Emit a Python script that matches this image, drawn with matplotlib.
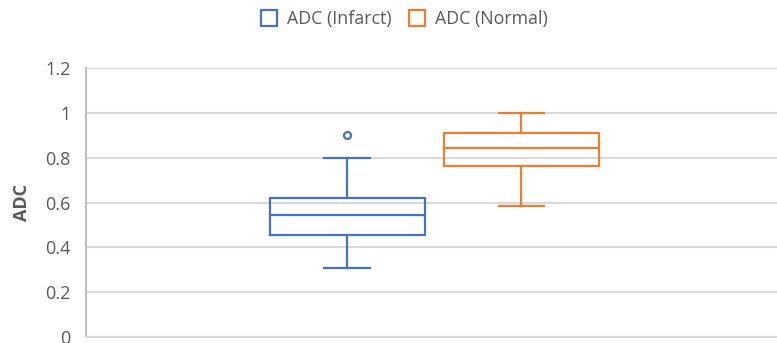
import matplotlib.pyplot as plt

# box statistics per series
series = ["ADC (Infarct)", "ADC (Normal)"]
colors = ["#4472C4", "#ED7D31"]
q1 = [0.457, 0.761]
med = [0.544, 0.842]
q3 = [0.622, 0.912]
whislo = [0.307, 0.583]
whishi = [0.80, 1.00]
fliers = [[0.902], []]

yticks = [0, 0.2, 0.4, 0.6, 0.8, 1.0, 1.2]
ytick_labels = ["0", "0.2", "0.4", "0.6", "0.8", "1", "1.2"]

plt.rcParams["font.family"] = ["Open Sans", "DejaVu Sans"]
text_color = "#595959"

fig = plt.figure(figsize=(7.77, 3.43), dpi=100)
ax = fig.add_axes([86 / 777, 6 / 343, 691 / 777, 269 / 343])

stats = []
for i in range(len(series)):
    stats.append(dict(label=series[i], q1=q1[i], med=med[i], q3=q3[i],
                      whislo=whislo[i], whishi=whishi[i], fliers=fliers[i]))

positions = [-0.5, 0.5]
for i, c in enumerate(colors):
    ax.bxp([stats[i]], positions=[positions[i]], widths=0.89,
           showfliers=True, manage_ticks=False,
           boxprops=dict(color=c, linewidth=1.6),
           medianprops=dict(color=c, linewidth=1.6),
           whiskerprops=dict(color=c, linewidth=1.6),
           capprops=dict(color=c, linewidth=1.6),
           capwidths=0.26,
           flierprops=dict(marker="o", markersize=5, markerfacecolor="none",
                           markeredgecolor=c, markeredgewidth=1.6))

ax.set_xlim(-2.0, 1.97)
ax.set_ylim(0, 1.2)
ax.set_yticks(yticks)
ax.set_yticklabels(ytick_labels)
ax.set_xticks([])
ax.yaxis.grid(True, color="#D9D9D9", linewidth=1.5)
ax.set_axisbelow(True)
ax.tick_params(axis="y", length=0, pad=11, labelsize=13, labelcolor=text_color)
for s in ["top", "right"]:
    ax.spines[s].set_visible(False)
ax.spines["left"].set_color("#BFBFBF")
ax.spines["left"].set_linewidth(1.5)
ax.spines["bottom"].set_color("#D9D9D9")
ax.spines["bottom"].set_linewidth(1.5)
ax.set_ylabel("ADC", fontsize=13, fontweight="bold", color=text_color, labelpad=10)

# legend with hollow squares
handles = [plt.Line2D([], [], marker="s", linestyle="none", markersize=11.5,
                      markerfacecolor="none", markeredgecolor=c, markeredgewidth=1.6)
           for c in colors]
fig.legend(handles, series, loc="center", bbox_to_anchor=(404 / 777, 1 - 19 / 343),
           ncol=2, frameon=False, fontsize=12.8, labelcolor=text_color,
           handlelength=1.0, handletextpad=0.5, columnspacing=0.9)

fig.savefig("out.png", dpi=100)
